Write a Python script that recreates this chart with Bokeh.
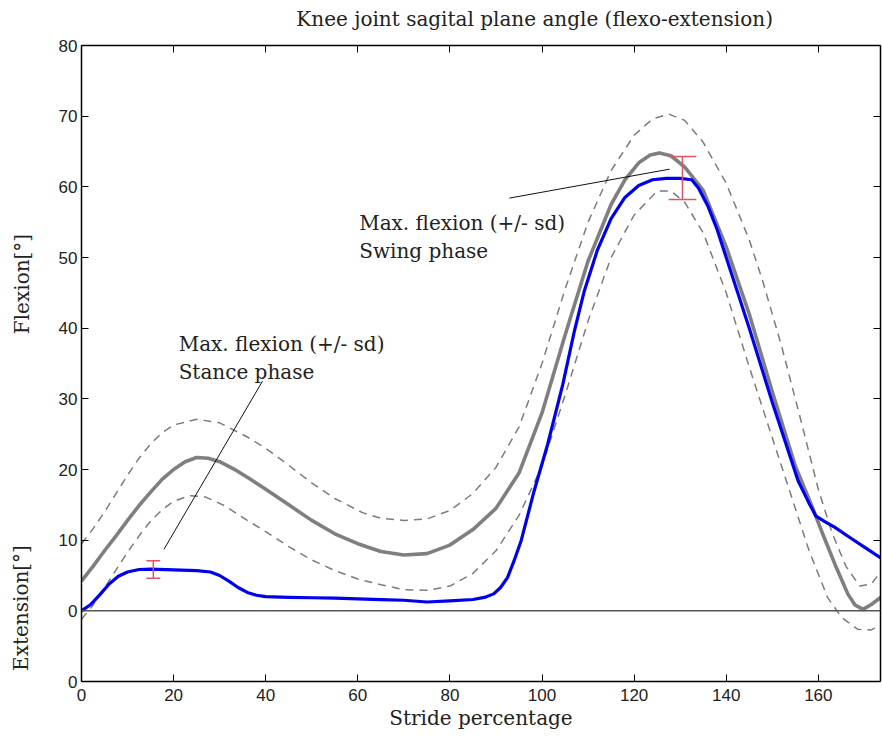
from bokeh.plotting import figure
from bokeh.models import Range1d, LinearAxis, FixedTicker, Span, Label, ColumnDataSource
from bokeh.embed import file_html
from bokeh.resources import INLINE

# ---------------- data ----------------
# Normal mean (gray solid)
x_mean = [0, 2.5, 5, 7.5, 10, 12.5, 15, 17.5, 20, 22.5, 25, 27.5, 30, 33, 36, 40, 45, 50, 55, 60,
          65, 70, 75, 80, 85, 90, 95, 100, 105, 110, 115, 118, 121, 123.5, 125.5, 128, 131, 135,
          140, 145, 150, 155, 158.5, 161, 163.6, 166.4, 168, 169.7, 171.5, 174]
y_mean = [4.2, 6.3, 8.5, 10.6, 12.8, 14.9, 16.8, 18.6, 20.0, 21.1, 21.7, 21.6, 21.1, 20.1, 18.9, 17.2,
          15.0, 12.8, 10.9, 9.5, 8.4, 7.9, 8.1, 9.3, 11.5, 14.5, 19.5, 28, 39, 49.5, 57.5, 61, 63.4,
          64.5, 64.8, 64.4, 62.8, 59.5, 51.5, 42, 31, 20.5, 15, 10.8, 6.6, 2.4, 0.8, 0.2, 0.9, 2.1]

# Normal mean + sd (gray dashed, upper)
x_upper = [0, 2.5, 5, 7.5, 10, 12.5, 15, 17.5, 20, 25, 30, 36, 40, 45, 50, 55, 61, 65, 70, 75, 80,
           85, 90, 95, 100, 105, 110, 115, 120, 124, 127.5, 131, 135, 140, 145, 148, 152, 156, 160,
           163, 166, 169, 171.5, 174]
y_upper = [9.5, 11.6, 14.0, 16.6, 19.2, 21.6, 23.6, 25.2, 26.3, 27.1, 26.6, 24.6, 23.0, 20.6, 18.1,
           15.9, 13.9, 13.1, 12.8, 13.0, 14.2, 16.6, 20.3, 26, 35, 45.5, 55, 62.3, 67.3, 69.6, 70.3,
           69.4, 66.3, 60.5, 52.5, 46.5, 37.5, 27.5, 17.2, 11, 6.3, 3.5, 3.8, 5.9]

# Normal mean - sd (gray dashed, lower)
x_lower = [0, 2.5, 5, 7.5, 10, 12.5, 15, 17.5, 20, 23.5, 27, 31, 36, 40, 45, 50, 55, 60, 65, 70, 75,
           80, 85, 90, 95, 100, 105, 110, 115, 120, 125, 128, 131, 135, 140, 145, 150, 154, 158, 162,
           165, 168.5, 171.5, 174]
y_lower = [-1.2, 0.8, 3.2, 5.8, 8.3, 10.6, 12.7, 14.3, 15.5, 16.3, 16.1, 14.9, 12.8, 11.2, 9.1, 7.2,
           5.7, 4.5, 3.7, 3.0, 2.9, 3.5, 5.3, 8.5, 13.5, 20.5, 30.5, 41, 50, 56, 59.4, 59.4, 57.8,
           53.5, 45, 34.5, 24.5, 16.5, 8.5, 1.9, -0.9, -2.6, -2.7, -1.9]

# Patient (blue)
x_patient = [0, 2, 4, 6, 8, 10, 12.5, 15, 20, 25, 28, 30, 32, 34, 36, 38, 40, 45, 50, 55, 60, 65, 70,
             75, 80, 85, 87.5, 89.5, 91, 92.5, 94, 95.5, 98.3, 101.2, 104.5, 107, 109.2, 112, 115,
             118, 121, 124, 127, 130, 132.5, 134, 136, 138, 140, 142.5, 145, 150, 155.6, 158, 159.5,
             161.5, 163.6, 167, 170.5, 174]
y_patient = [0, 0.9, 2.3, 3.8, 4.9, 5.5, 5.85, 5.9, 5.8, 5.7, 5.5, 5.0, 4.2, 3.3, 2.6, 2.2, 2.0, 1.9,
             1.85, 1.8, 1.7, 1.6, 1.5, 1.25, 1.4, 1.6, 1.9, 2.4, 3.3, 4.7, 7.2, 10, 17, 23.5, 32,
             39.5, 45.3, 51, 55.5, 58.5, 60.2, 61, 61.2, 61.2, 61, 59.8, 57.3, 54, 50, 45, 40, 29.5,
             18.4, 15.2, 13.4, 12.6, 11.8, 10.3, 8.8, 7.3]

# Max. flexion error bars (+/- sd): stance, swing
err_x = [15.6, 130.5]
err_low = [4.6, 58.2]
err_high = [7.1, 64.3]

x_ticks = [0, 20, 40, 60, 80, 100, 120, 140, 160]
y_ticks = [-10, 0, 10, 20, 30, 40, 50, 60, 70, 80]
y_tick_labels = {-10: "0"}

title_text = "Knee joint sagital plane angle (flexo-extension)"
title_pos = 98.4
x_label = "Stride percentage"
y_label_top = "Flexion[°]"
y_label_bottom = "Extension[°]"
y_label_pos = [46.25, 0.4]
stance_text = ["Max. flexion (+/- sd)", "Stance phase"]
swing_text = ["Max. flexion (+/- sd)", "Swing phase"]

# ---------------- styles ----------------
SERIF = "DejaVu Serif"
SANS = "Liberation Sans"
TXT = "#222222"

p = figure(width=882, height=742, output_backend="svg", toolbar_location=None,
           x_range=Range1d(0, 173.5), y_range=Range1d(-10, 80),
           x_axis_location=None, y_axis_location=None,
           min_border_left=81, min_border_right=2, min_border_top=45, min_border_bottom=61)
p.grid.visible = False
p.outline_line_color = None
p.background_fill_color = "white"
p.border_fill_color = "white"


def make_axis(ticks, show_labels):
    ax = LinearAxis(ticker=FixedTicker(ticks=ticks))
    ax.major_tick_in = 7
    ax.major_tick_out = 0
    ax.minor_tick_line_color = None
    ax.axis_line_color = "black"
    ax.axis_line_width = 1.5
    ax.major_tick_line_color = "black"
    ax.major_tick_line_width = 1
    if show_labels:
        ax.major_label_text_font = SANS
        ax.major_label_text_font_size = "17px"
        ax.major_label_text_color = TXT
    else:
        ax.major_label_text_font_size = "0px"
        ax.major_label_text_color = None
        ax.major_label_standoff = 0
    return ax


def make_text_axis(positions, texts, standoff, vertical):
    ax = LinearAxis(ticker=FixedTicker(ticks=positions),
                    major_label_overrides=dict(zip(positions, texts)))
    ax.axis_line_color = None
    ax.major_tick_line_color = None
    ax.minor_tick_line_color = None
    ax.major_tick_in = 0
    ax.major_tick_out = 0
    if vertical:
        ax.major_label_orientation = "vertical"
    ax.major_label_standoff = standoff
    ax.major_label_text_font = SERIF
    ax.major_label_text_font_size = "20px"
    ax.major_label_text_color = TXT
    return ax


xb = make_axis(x_ticks, True)
xb.major_label_standoff = 7
xb.axis_label = x_label
xb.axis_label_text_font = SERIF
xb.axis_label_text_font_size = "20px"
xb.axis_label_text_font_style = "normal"
xb.axis_label_text_color = TXT
xb.axis_label_standoff = 2
p.add_layout(xb, "below")

yl = make_axis(y_ticks, True)
yl.major_label_standoff = 4
yl.major_label_overrides = y_tick_labels
p.add_layout(yl, "left")
# outer left axis carrying the two y-axis titles at their own heights
p.add_layout(make_text_axis(y_label_pos, [y_label_top, y_label_bottom], 22, True), "left")

p.add_layout(make_axis(x_ticks, False), "above")
# outer top axis carrying the chart title
p.add_layout(make_text_axis([title_pos], [title_text], 15, False), "above")
p.add_layout(make_axis(y_ticks, False), "right")

# zero line
p.add_layout(Span(location=0, dimension="width", line_color="#555555", line_width=1.5))

# normal band
p.line(x_upper, y_upper, line_color="#7c7c7c", line_width=1.5, line_dash="8 6")
p.line(x_lower, y_lower, line_color="#7c7c7c", line_width=1.5, line_dash="8 6")
p.line(x_mean, y_mean, line_color="#7f7f7f", line_width=3.6, line_join="round")

# patient
p.line(x_patient, y_patient, line_color="#0000ee", line_width=3.2, line_join="round")

# error bars
caps = [1.5, 3.0]
src = ColumnDataSource(dict(x=err_x, lo=err_low, hi=err_high,
                            x0=[x - c for x, c in zip(err_x, caps)],
                            x1=[x + c for x, c in zip(err_x, caps)]))
p.segment(x0="x", y0="lo", x1="x", y1="hi", source=src, line_color="#dd5566", line_width=1.5)
p.segment(x0="x0", y0="lo", x1="x1", y1="lo", source=src, line_color="#dd5566", line_width=1.5)
p.segment(x0="x0", y0="hi", x1="x1", y1="hi", source=src, line_color="#dd5566", line_width=1.5)

# leader lines (text -> error bar)
p.segment(x0=[39.3, 92.9], y0=[32.5, 58.4], x1=[17.9, 127.7], y1=[8.7, 62.5],
          line_color="#111111", line_width=1)

# annotation texts
for txt, (xx, yy) in zip(stance_text, [(21.1, 37.8), (21.1, 33.8)]):
    p.add_layout(Label(x=xx, y=yy, text=txt, text_font=SERIF, text_font_size="20px",
                       text_color=TXT, text_align="left", text_baseline="middle"))
for txt, (xx, yy) in zip(swing_text, [(60.3, 54.9), (60.3, 50.9)]):
    p.add_layout(Label(x=xx, y=yy, text=txt, text_font=SERIF, text_font_size="20px",
                       text_color=TXT, text_align="left", text_baseline="middle"))

open("out.html", "w").write(file_html(p, INLINE))
